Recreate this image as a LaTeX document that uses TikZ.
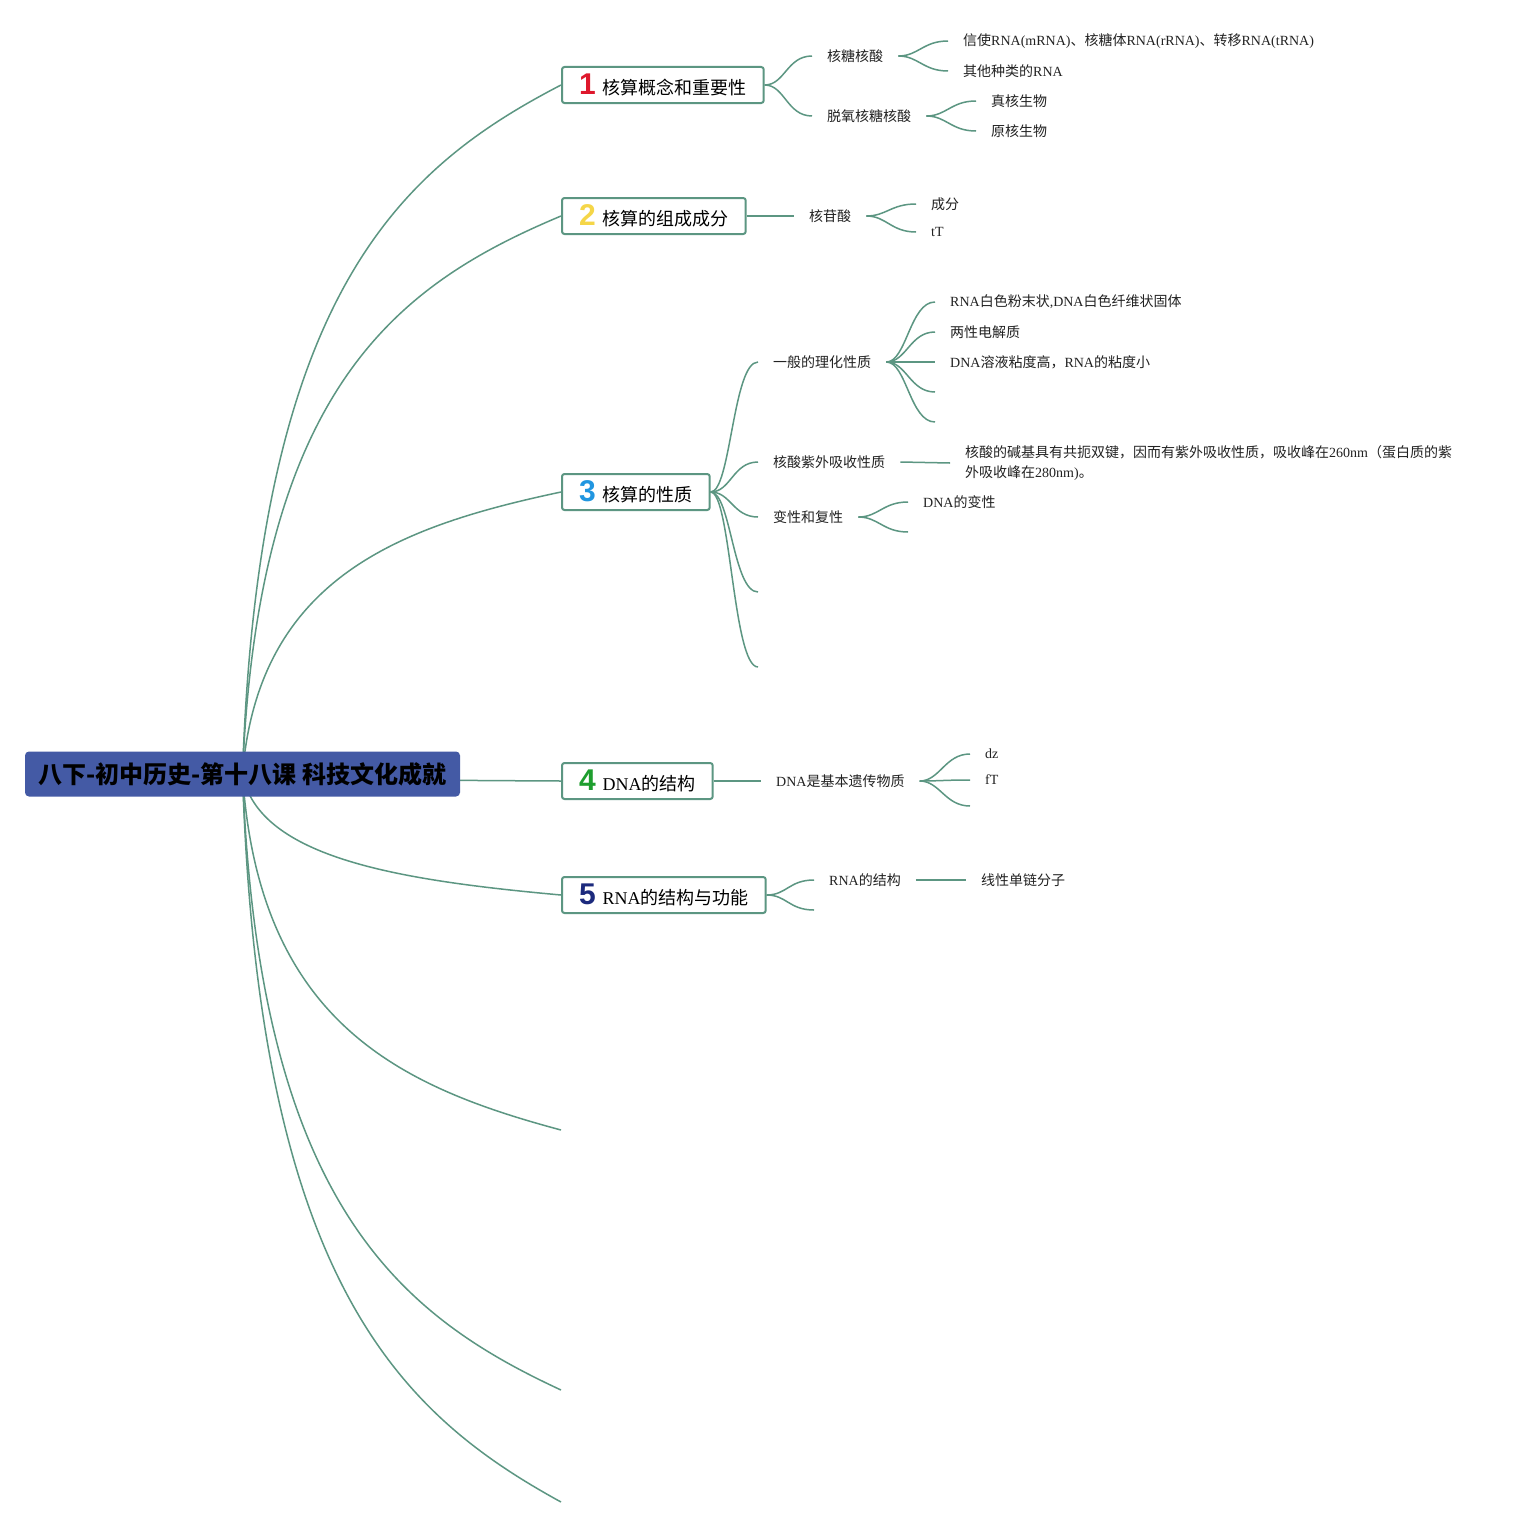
\documentclass[tikz,border=0pt]{standalone}
\usepackage{fontspec}
\setmainfont{Liberation Serif}
\newfontfamily\cjk{Noto Sans CJK SC}
\newfontfamily\numfont{Liberation Sans}
\newcommand\zh[1]{{\cjk #1}}
\usetikzlibrary{backgrounds,calc}
\definecolor{lc}{RGB}{92,150,130}
\definecolor{rootfill}{RGB}{68,90,165}
\definecolor{txt}{RGB}{34,34,34}
\definecolor{nA}{RGB}{222,24,44}
\definecolor{nB}{RGB}{245,214,72}
\definecolor{nC}{RGB}{33,150,224}
\definecolor{nD}{RGB}{30,158,46}
\definecolor{nE}{RGB}{28,42,125}
\newcommand\numi[2]{{\numfont\bfseries\fontsize{30}{30}\selectfont\color{#1}#2}\hspace{7pt}}
\newcommand\rootlink[1]{\draw[link] let \p1=(root.center), \p2=(#1) in (\p1) .. controls ({\x1+0.05*(\x2-\x1)},{\y1+0.7*(\y2-\y1)}) and ({\x1+0.5*(\x2-\x1)},{\y1+0.88*(\y2-\y1)}) .. (\p2);}
\newcommand\fan[2]{\draw[link] (#1) .. controls +(20,0) and +(-25,0) .. (#2);}
\tikzset{
  link/.style={draw=lc, line width=1.5pt},
  topic/.style={draw=lc, line width=2pt, fill=white, rounded corners=2.5pt, anchor=west,
    minimum height=36pt, inner xsep=17pt, inner ysep=0pt, font=\fontsize{18}{20}\selectfont, text=black},
  sub/.style={anchor=west, inner xsep=15pt, inner ysep=2pt, font=\fontsize{14}{18}\selectfont, text=txt},
  rootbox/.style={fill=rootfill, rounded corners=4pt, minimum width=435pt, minimum height=45pt,
    inner sep=0pt, font=\cjk\bfseries\fontsize{24}{26}\selectfont, text=black}
}
\begin{document}
\begin{tikzpicture}[x=1pt,y=-1pt]
\useasboundingbox (0,0) rectangle (1525,1528);
% root and main topics
\node[rootbox] (root) at (242.5,774) {八下-初中历史-第十八课 科技文化成就};
\node[topic] (t1) at (561,85) {\numi{nA}{1}\zh{核算概念和重要性}};
\node[topic] (t2) at (561,216) {\numi{nB}{2}\zh{核算的组成成分}};
\node[topic] (t3) at (561,492) {\numi{nC}{3}\zh{核算的性质}};
\node[topic] (t4) at (561,781) {\numi{nD}{4}DNA\zh{的结构}};
\node[topic] (t5) at (561,895) {\numi{nE}{5}RNA\zh{的结构与功能}};
\coordinate (t6) at (561,1130);
\coordinate (t7) at (561,1390);
\coordinate (t8) at (561,1502);
% topic 1
\node[sub] (a1) at (812,56) {\zh{核糖核酸}};
\node[sub] (a2) at (812,116) {\zh{脱氧核糖核酸}};
\node[sub] (a11) at (948,41) {\zh{信使}RNA(mRNA)\zh{、核糖体}RNA(rRNA)\zh{、转移}RNA(tRNA)};
\node[sub] (a12) at (948,71) {\zh{其他种类的}RNA};
\node[sub] (a21) at (976,101) {\zh{真核生物}};
\node[sub] (a22) at (976,131) {\zh{原核生物}};
% topic 2
\node[sub] (b1) at (794,216) {\zh{核苷酸}};
\node[sub] (b11) at (916,204) {\zh{成分}};
\node[sub] (b12) at (916,232) {tT};
% topic 3
\node[sub] (c1) at (758,362) {\zh{一般的理化性质}};
\node[sub] (c11) at (935,302) {RNA\zh{白色粉末状},DNA\zh{白色纤维状固体}};
\node[sub] (c12) at (935,332) {\zh{两性电解质}};
\node[sub] (c13) at (935,362) {DNA\zh{溶液粘度高，}RNA\zh{的粘度小}};
\coordinate (c14) at (935,392);
\coordinate (c15) at (935,422);
\node[sub] (c2) at (758,462) {\zh{核酸紫外吸收性质}};
\node[sub, align=left, font=\fontsize{14}{20}\selectfont] (c21) at (950,463)
  {\zh{核酸的碱基具有共扼双键，因而有紫外吸收性质，吸收峰在}260nm\zh{（蛋白质的紫}\\\zh{外吸收峰在}280nm)\zh{。}};
\node[sub] (c3) at (758,517) {\zh{变性和复性}};
\node[sub] (c31) at (908,502) {DNA\zh{的变性}};
\coordinate (c32) at (908,532);
\coordinate (c4) at (758,592);
\coordinate (c5) at (758,667);
% topic 4
\node[sub] (d1) at (761,781) {DNA\zh{是基本遗传物质}};
\node[sub] (d11) at (970,754) {dz};
\node[sub] (d12) at (970,780) {fT};
\coordinate (d13) at (970,806);
% topic 5
\node[sub] (e1) at (814,880) {RNA\zh{的结构}};
\coordinate (e2) at (814,910);
\node[sub] (e11) at (966,880) {\zh{线性单链分子}};
% connectors
\begin{scope}[on background layer]
\fill[white] (0,0) rectangle (1525,1528);
\rootlink{t1.west}
\rootlink{t2.west}
\rootlink{t3.west}
\rootlink{t4.west}
\rootlink{t5.west}
\rootlink{t6}
\rootlink{t7}
\rootlink{t8}
\fan{t1.east}{a1.west}
\fan{t1.east}{a2.west}
\fan{a1.east}{a11.west}
\fan{a1.east}{a12.west}
\fan{a2.east}{a21.west}
\fan{a2.east}{a22.west}
\draw[link] (t2.east) -- (b1.west);
\fan{b1.east}{b11.west}
\fan{b1.east}{b12.west}
\fan{t3.east}{c1.west}
\fan{t3.east}{c2.west}
\fan{t3.east}{c3.west}
\fan{t3.east}{c4}
\fan{t3.east}{c5}
\fan{c1.east}{c11.west}
\fan{c1.east}{c12.west}
\fan{c1.east}{c13.west}
\fan{c1.east}{c14}
\fan{c1.east}{c15}
\draw[link] (c2.east) -- (c21.west);
\fan{c3.east}{c31.west}
\fan{c3.east}{c32}
\draw[link] (t4.east) -- (d1.west);
\fan{d1.east}{d11.west}
\fan{d1.east}{d12.west}
\fan{d1.east}{d13}
\fan{t5.east}{e1.west}
\fan{t5.east}{e2}
\draw[link] (e1.east) -- (e11.west);
\end{scope}
\end{tikzpicture}
\end{document}
